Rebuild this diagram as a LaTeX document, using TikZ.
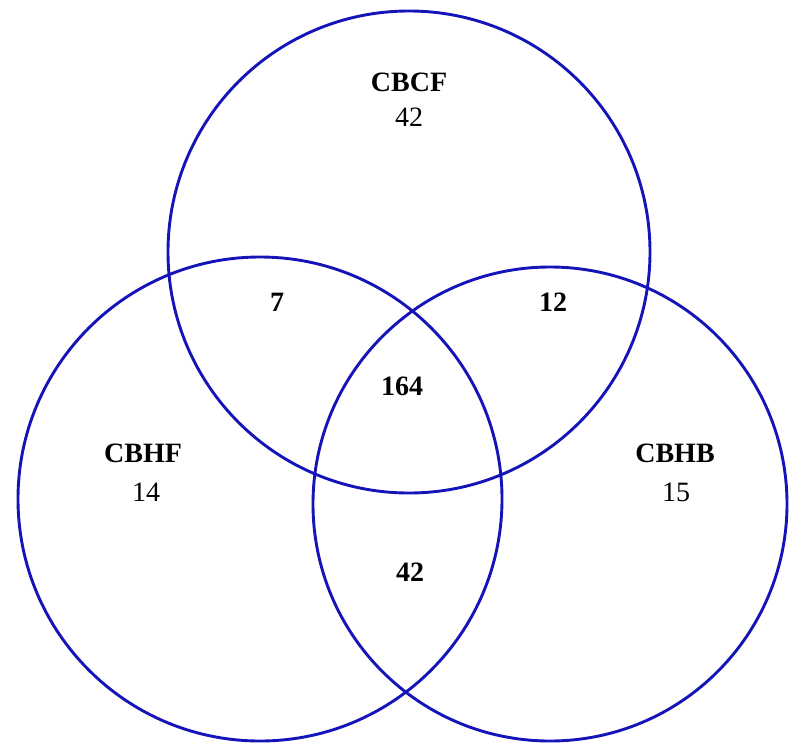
\documentclass[tikz,border=0pt]{standalone}
\usepackage{fontspec}
\setmainfont{Liberation Serif}
\definecolor{vennblue}{RGB}{20,20,185}
\begin{document}
\begin{tikzpicture}[x=1pt,y=-1pt,
  ring/.style={draw=vennblue,line width=2.9pt},
  lab/.style={font=\fontsize{28}{30}\selectfont\bfseries,inner sep=0pt},
  num/.style={font=\fontsize{28}{30}\selectfont,inner sep=0pt},
  bnum/.style={font=\fontsize{28}{30}\selectfont\bfseries,inner sep=0pt}]
\useasboundingbox (0,0) rectangle (789,745);
\fill[white] (0,0) rectangle (789,745);
\coordinate (ctop) at (409,252);
\coordinate (cleft) at (260,499);
\coordinate (cright) at (550,504);
\draw[ring] (ctop) circle[radius=241];
\draw[ring] (cleft) circle[radius=242];
\draw[ring] (cright) circle[radius=237];
\node[lab] (lcbcf) at (409,82) {CBCF};
\node[num] (ncbcf) at (409,117) {42};
\node[lab] (lcbhf) at (143,453) {CBHF};
\node[num] (ncbhf) at (146,492) {14};
\node[lab] (lcbhb) at (675,453) {CBHB};
\node[num] (ncbhb) at (676,492) {15};
\node[bnum] (n7) at (277,302) {7};
\node[bnum] (n12) at (553,302) {12};
\node[bnum] (n164) at (402,386) {164};
\node[bnum] (n42) at (410,572) {42};
\end{tikzpicture}
\end{document}
